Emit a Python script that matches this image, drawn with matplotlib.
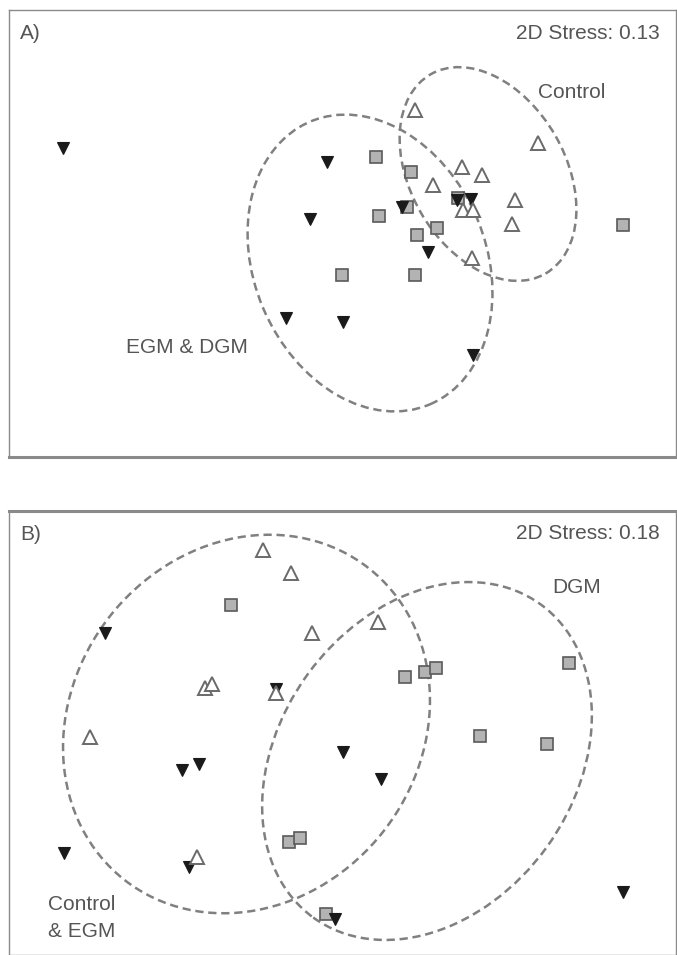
import matplotlib
matplotlib.use("Agg")
import matplotlib.pyplot as plt
from matplotlib.patches import Ellipse

plt.rcParams['font.family'] = ['Liberation Sans', 'DejaVu Sans']

# NMDS ordination scores (arbitrary units)
# panel A
a_dgm_x = [-2.79, -0.15, -0.32, -0.56, 0.01, 0.86, 1.31, 0.60, 1.15, 1.29]
a_dgm_y = [0.85, 0.71, 0.14, -0.85, -0.89, -0.19, -1.22, 0.26, 0.33, 0.34]
a_egm_x = [0.34, 0.69, 0.65, 0.37, 0.75, 0.95, 0.00, 0.73, 2.81, 1.16]
a_egm_y = [0.76, 0.61, 0.26, 0.17, -0.02, 0.05, -0.42, -0.42, 0.08, 0.35]
a_ctrl_x = [0.73, 1.96, 1.20, 1.40, 0.91, 1.73, 1.21, 1.31, 1.70, 1.30]
a_ctrl_y = [1.23, 0.90, 0.66, 0.58, 0.48, 0.33, 0.23, 0.23, 0.09, -0.25]

# panel B
b_dgm_x = [-2.37, -0.66, -1.60, -1.43, -2.78, -1.53, 0.01, 0.39, 2.81, -0.07]
b_dgm_y = [1.00, 0.44, -0.37, -0.31, -1.20, -1.34, -0.19, -0.46, -1.59, -1.86]
b_egm_x = [-1.11, 0.63, 0.83, 0.94, 2.27, 1.38, 2.05, -0.53, -0.42, -0.16]
b_egm_y = [1.28, 0.56, 0.61, 0.65, 0.70, -0.03, -0.11, -1.09, -1.05, -1.81]
b_ctrl_x = [-0.79, -0.51, -0.30, -1.37, -1.30, -0.66, 0.36, -2.52, -1.45]
b_ctrl_y = [1.83, 1.60, 1.00, 0.45, 0.49, 0.40, 1.11, -0.04, -1.24]

# group envelopes: (cx, cy, width, height, angle)
a_groups = [(0.28, -0.30, 2.32, 3.07, 23), (1.46, 0.59, 1.55, 2.30, 30)]
b_groups = [(-0.955, 0.09, 3.48, 3.96, -38), (0.85, -0.28, 2.95, 3.87, -36)]

stress = ["2D Stress: 0.13", "2D Stress: 0.18"]
txt_col = "#555555"
dash_col = "#808080"


def draw_panel(ax, dgm, egm, ctrl, groups, label, st, ylim):
    for cx, cy, w, h, ang in groups:
        ax.add_patch(Ellipse((cx, cy), w, h, angle=ang, fill=False,
                             edgecolor=dash_col, lw=1.8, ls=(0, (3.3, 1.9))))
    ax.plot(egm[0], egm[1], 's', ms=8, mfc='#b3b3b3', mec='#5a5a5a', mew=1.2)
    ax.plot(dgm[0], dgm[1], 'v', ms=9, mfc='#1a1a1a', mec='#1a1a1a', mew=0.8)
    ax.plot(ctrl[0], ctrl[1], '^', ms=10, mfc='white', mec='#6a6a6a', mew=1.4)
    ax.set_xlim(-3.33, 3.34)
    ax.set_ylim(*ylim)
    ax.set_xticks([])
    ax.set_yticks([])
    for s in ax.spines.values():
        s.set_color('#8a8a8a')
        s.set_linewidth(1.0)
    ax.text(0.0165, 0.935, label, transform=ax.transAxes, fontsize=15,
            color=txt_col, va='baseline', ha='left')
    ax.text(0.975, 0.936, st, transform=ax.transAxes, fontsize=15,
            color=txt_col, va='baseline', ha='right')


fig = plt.figure(figsize=(6.77, 9.55), dpi=100)
W, H = 677, 955
axA = fig.add_axes([9 / W, (H - 457) / H, 667 / W, 447 / H])
axB = fig.add_axes([9 / W, 0 / H, 667 / W, 444 / H])

draw_panel(axA, (a_dgm_x, a_dgm_y), (a_egm_x, a_egm_y), (a_ctrl_x, a_ctrl_y),
           a_groups, "A)", stress[0], (-2.24, 2.23))
axA.spines['bottom'].set_linewidth(2.2)
axA.text(2.30, 1.35, "Control", fontsize=15, color=txt_col, ha='center', va='baseline')
axA.text(-1.55, -1.20, "EGM & DGM", fontsize=15, color=txt_col, ha='center', va='baseline')

draw_panel(axB, (b_dgm_x, b_dgm_y), (b_egm_x, b_egm_y), (b_ctrl_x, b_ctrl_y),
           b_groups, "B)", stress[1], (-2.22, 2.22))
axB.spines['top'].set_linewidth(2.2)
axB.text(2.35, 1.40, "DGM", fontsize=15, color=txt_col, ha='center', va='baseline')
axB.text(-2.94, -1.77, "Control", fontsize=15, color=txt_col, ha='left', va='baseline')
axB.text(-2.94, -2.04, "& EGM", fontsize=15, color=txt_col, ha='left', va='baseline')

fig.savefig("out.png", dpi=100)
